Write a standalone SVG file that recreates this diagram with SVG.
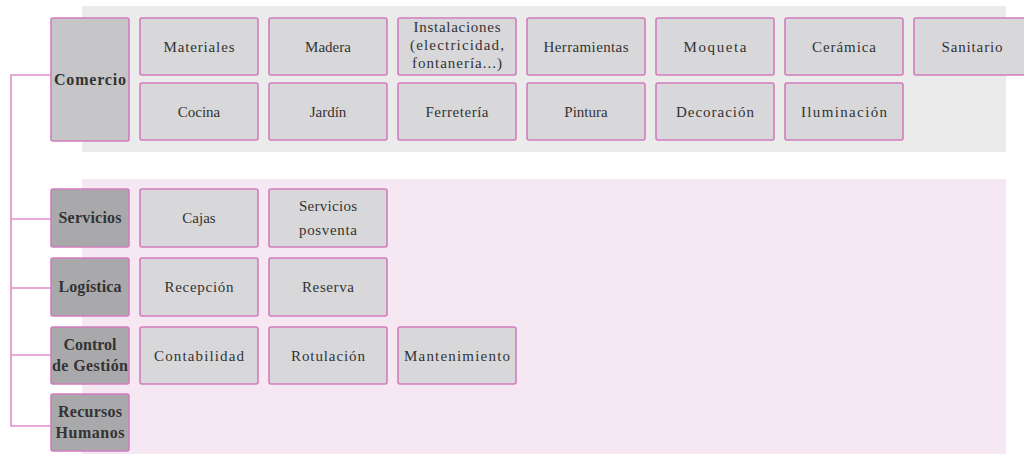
<svg xmlns="http://www.w3.org/2000/svg" width="1024" height="454" viewBox="0 0 1024 454">
<style>
.bgc{fill:#ebebeb}
.bgp{fill:#f5e8f2}
.hd{stroke:#d27cbe;stroke-width:1.6;fill:#a9a9ab}
.hc{stroke:#d27cbe;stroke-width:1.6;fill:#c6c6c8}
.ch{stroke:#d27cbe;stroke-width:1.6;fill:#d8d8da}
.t{font-family:"Liberation Serif","DejaVu Serif",serif;font-size:15px;fill:#333;text-anchor:middle}
.th{font-family:"Liberation Serif","DejaVu Serif",serif;font-size:16px;font-weight:bold;fill:#333;text-anchor:middle}
.ln{stroke:#e08ecb;stroke-width:1.6;fill:none}
</style>
<rect class="bgc" x="82" y="6" width="924" height="146"/>
<rect class="bgp" x="82" y="179" width="924" height="275"/>
<g id="connectors">
<path class="ln" d="M51 75H11V426H51M11 219H51M11 288H51M11 355H51"/>
</g>
<g id="comercio"><rect class="hc" x="51" y="18" width="78" height="123" rx="2"/><text class="th" x="90" y="85" textLength="72">Comercio</text></g>
<g id="servicios"><rect class="hd" x="51" y="189" width="78" height="58" rx="2"/><text class="th" x="90" y="223" textLength="63">Servicios</text></g>
<g id="logistica"><rect class="hd" x="51" y="258" width="78" height="58" rx="2"/><text class="th" x="90" y="292" textLength="63">Logística</text></g>
<g id="control"><rect class="hd" x="51" y="327" width="78" height="57" rx="2"/><text class="th" x="90" y="350">Control</text><text class="th" x="90" y="371" textLength="76">de Gestión</text></g>
<g id="rrhh"><rect class="hd" x="51" y="394" width="78" height="57" rx="2"/><text class="th" x="90" y="417" textLength="64">Recursos</text><text class="th" x="90" y="438" textLength="69">Humanos</text></g>

<g id="materiales"><rect class="ch" x="140" y="18" width="118" height="57" rx="2"/><text class="t" x="199" y="52" textLength="71">Materiales</text></g>
<g id="madera"><rect class="ch" x="269" y="18" width="118" height="57" rx="2"/><text class="t" x="328" y="52">Madera</text></g>
<g id="instalaciones"><rect class="ch" x="398" y="18" width="118" height="57" rx="2"/><text class="t" x="457" y="32" textLength="87">Instalaciones</text><text class="t" x="457" y="50" textLength="94">(electricidad,</text><text class="t" x="457" y="68" textLength="90">fontanería...)</text></g>
<g id="herramientas"><rect class="ch" x="527" y="18" width="118" height="57" rx="2"/><text class="t" x="586" y="52" textLength="85">Herramientas</text></g>
<g id="moqueta"><rect class="ch" x="656" y="18" width="118" height="57" rx="2"/><text class="t" x="715" y="52" textLength="63">Moqueta</text></g>
<g id="ceramica"><rect class="ch" x="785" y="18" width="118" height="57" rx="2"/><text class="t" x="844" y="52" textLength="64">Cerámica</text></g>
<g id="sanitario"><rect class="ch" x="914" y="18" width="118" height="57" rx="2"/><text class="t" x="972" y="52" textLength="61">Sanitario</text></g>

<g id="cocina"><rect class="ch" x="140" y="83" width="118" height="57" rx="2"/><text class="t" x="199" y="117">Cocina</text></g>
<g id="jardin"><rect class="ch" x="269" y="83" width="118" height="57" rx="2"/><text class="t" x="328" y="117">Jardín</text></g>
<g id="ferreteria"><rect class="ch" x="398" y="83" width="118" height="57" rx="2"/><text class="t" x="457" y="117" textLength="63">Ferretería</text></g>
<g id="pintura"><rect class="ch" x="527" y="83" width="118" height="57" rx="2"/><text class="t" x="586" y="117">Pintura</text></g>
<g id="decoracion"><rect class="ch" x="656" y="83" width="118" height="57" rx="2"/><text class="t" x="715" y="117" textLength="78">Decoración</text></g>
<g id="iluminacion"><rect class="ch" x="785" y="83" width="118" height="57" rx="2"/><text class="t" x="844" y="117" textLength="86">Iluminación</text></g>

<g id="cajas"><rect class="ch" x="140" y="189" width="118" height="58" rx="2"/><text class="t" x="199" y="223">Cajas</text></g>
<g id="posventa"><rect class="ch" x="269" y="189" width="118" height="58" rx="2"/><text class="t" x="328" y="211" textLength="58">Servicios</text><text class="t" x="328" y="235" textLength="58">posventa</text></g>
<g id="recepcion"><rect class="ch" x="140" y="258" width="118" height="58" rx="2"/><text class="t" x="199" y="292" textLength="69">Recepción</text></g>
<g id="reserva"><rect class="ch" x="269" y="258" width="118" height="58" rx="2"/><text class="t" x="328" y="292" textLength="52">Reserva</text></g>
<g id="contabilidad"><rect class="ch" x="140" y="327" width="118" height="57" rx="2"/><text class="t" x="199" y="361" textLength="90">Contabilidad</text></g>
<g id="rotulacion"><rect class="ch" x="269" y="327" width="118" height="57" rx="2"/><text class="t" x="328" y="361" textLength="74">Rotulación</text></g>
<g id="mantenimiento"><rect class="ch" x="398" y="327" width="118" height="57" rx="2"/><text class="t" x="457" y="361" textLength="106">Mantenimiento</text></g>
</svg>
